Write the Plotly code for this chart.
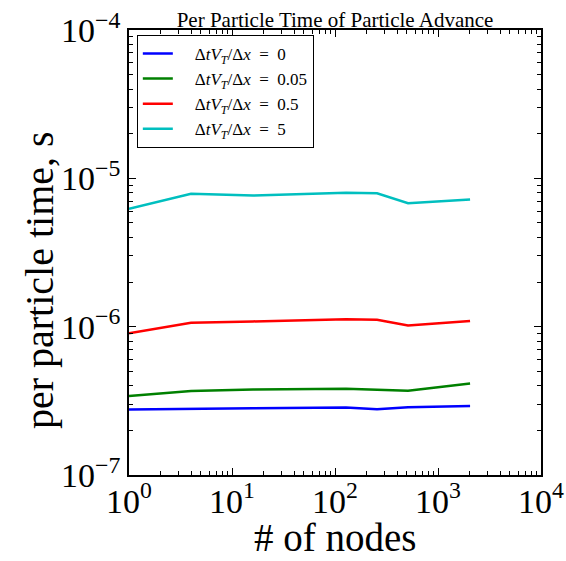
import plotly.graph_objects as go

nodes = [1, 4, 16, 128, 256, 512, 2048]
t_0 = [2.76e-7, 2.80e-7, 2.82e-7, 2.85e-7, 2.78e-7, 2.86e-7, 2.92e-7]
t_005 = [3.41e-7, 3.68e-7, 3.77e-7, 3.81e-7, 3.75e-7, 3.70e-7, 4.14e-7]
t_05 = [9.03e-7, 1.064e-6, 1.085e-6, 1.12e-6, 1.114e-6, 1.02e-6, 1.09e-6]
t_5 = [6.24e-6, 7.86e-6, 7.66e-6, 7.98e-6, 7.94e-6, 6.80e-6, 7.2e-6]

labels = [
    "\u2002\u2002Δ<i>tV</i><sub><i>T</i></sub>/Δ<i>x</i>\u2002=\u20020",
    "\u2002\u2002Δ<i>tV</i><sub><i>T</i></sub>/Δ<i>x</i>\u2002=\u20020.05",
    "\u2002\u2002Δ<i>tV</i><sub><i>T</i></sub>/Δ<i>x</i>\u2002=\u20020.5",
    "\u2002\u2002Δ<i>tV</i><sub><i>T</i></sub>/Δ<i>x</i>\u2002=\u20025",
]
colors = ["#0000ff", "#008000", "#ff0000", "#00bfbf"]

x_ticks = [1, 10, 100, 1000, 10000]
x_ticktext = ["10<sup>0</sup>", "10<sup>1</sup>", "10<sup>2</sup>", "10<sup>3</sup>", "10<sup>4</sup>"]
y_ticks = [1e-7, 1e-6, 1e-5, 1e-4]
y_ticktext = ["10<sup>−7</sup>", "10<sup>−6</sup>", "10<sup>−5</sup>", "10<sup>−4</sup>"]
x_minor = [m * 10 ** e for e in range(0, 4) for m in range(2, 10)]
y_minor = [m * 10.0 ** e for e in range(-7, -4) for m in range(2, 10)]

FONT = "Liberation Serif"

fig = go.Figure()
for name, ys, color in zip(labels, [t_0, t_005, t_05, t_5], colors):
    fig.add_trace(go.Scatter(x=nodes, y=ys, mode="lines", name=name,
                             line=dict(color=color, width=2.5)))

# dummy trace for mirrored (top/right) axes
fig.add_trace(go.Scatter(x=[None], y=[None], xaxis="x2", yaxis="y2",
                         showlegend=False, hoverinfo="skip"))

def axis_style(minor_vals, show_labels=True):
    return dict(
        type="log", showline=True, linecolor="black", linewidth=1.5, mirror=False,
        ticks="inside", ticklen=7, tickwidth=1, tickcolor="black",
        showgrid=False, zeroline=False, automargin=False,
        showticklabels=show_labels,
        minor=dict(ticks="inside", ticklen=4, tickwidth=1, tickcolor="black",
                   showgrid=False, tickmode="array", tickvals=minor_vals),
        tickfont=dict(family=FONT, size=34, color="black"),
    )

fig.update_layout(
    xaxis=dict(range=[0, 4], tickvals=x_ticks, ticktext=x_ticktext, ticklabelstandoff=-5,
               **axis_style(x_minor)),
    yaxis=dict(range=[-7, -4], tickvals=y_ticks, ticktext=y_ticktext,
               **axis_style(y_minor)),
    xaxis2=dict(range=[0, 4], tickvals=x_ticks, overlaying="x", side="top", anchor="y2",
                **axis_style(x_minor, False)),
    yaxis2=dict(range=[-7, -4], tickvals=y_ticks, overlaying="y", side="right", anchor="x2",
                **axis_style(y_minor, False)),
    width=566, height=561,
    margin=dict(l=129, r=25, t=30, b=86),
    plot_bgcolor="white", paper_bgcolor="white",
    title=dict(text="Per Particle Time of Particle Advance", x=0.5, xanchor="center",
               xref="paper", y=1, yref="paper", yanchor="bottom", pad=dict(b=3),
               font=dict(family=FONT, size=21, color="black")),
    legend=dict(x=0.019, y=0.989, xanchor="left", yanchor="top",
                bordercolor="black", borderwidth=1, bgcolor="white",
                font=dict(family=FONT, size=17, color="black")),
    showlegend=True,
    annotations=[
        dict(text="per particle time, s", textangle=-90, showarrow=False,
             xref="paper", yref="paper", x=0, y=0.438, xanchor="center", yanchor="middle",
             xshift=-90, font=dict(family=FONT, size=40, color="black")),
        dict(text="# of nodes", showarrow=False,
             xref="paper", yref="paper", x=0.5, y=0, xanchor="center", yanchor="middle",
             yshift=-62, font=dict(family=FONT, size=39, color="black")),
    ],
)

fig.write_html("out.html", config={"displayModeBar": False},
               post_script="document.body.style.margin='0';")
